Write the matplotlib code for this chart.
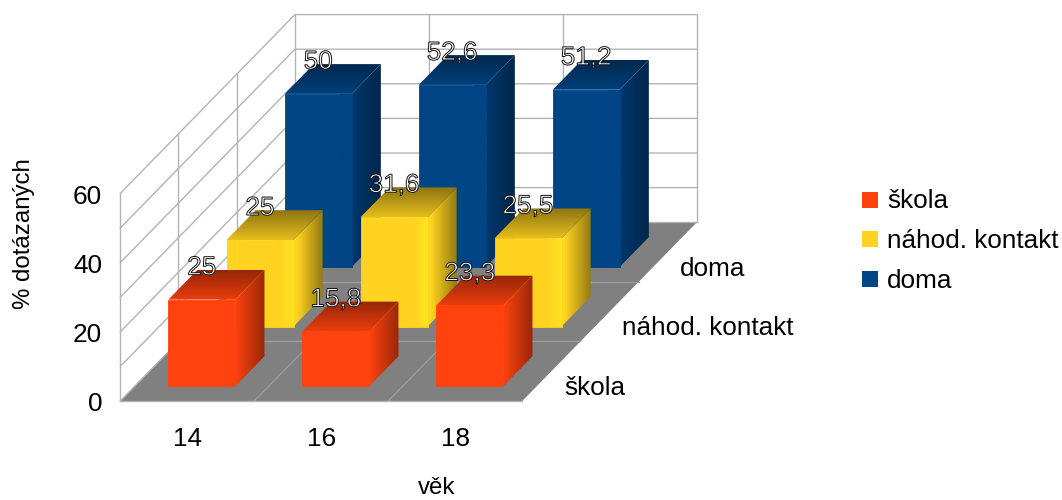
import matplotlib
matplotlib.use("Agg")
import matplotlib.pyplot as plt
import matplotlib.patheffects as pe
from matplotlib.colors import to_rgb
from matplotlib.patches import Polygon, Rectangle
import numpy as np

plt.rcParams['font.family'] = ['Liberation Sans', 'DejaVu Sans']

# data
ages = ["14", "16", "18"]
series = ["škola", "náhod. kontakt", "doma"]
skola = [25, 15.8, 23.3]
kontakt = [25, 31.6, 25.5]
doma = [50, 52.6, 51.2]
value_labels = [["25", "15,8", "23,3"], ["25", "31,6", "25,5"], ["50", "52,6", "51,2"]]
colors = ["#FF420E", "#FFD320", "#004586"]
y_ticks = [0, 20, 40, 60]
y_grid = [0, 10, 20, 30, 40, 50, 60]

W, H = 1062, 500
X0, Y0 = 120.3, 401.0   # pixel position of category 0, value 0
PX_CAT = 134.0          # pixels per category
PX_VAL = 3.46           # pixels per value unit
DEPTH_X = 58.2 / PX_CAT # shift for one row in depth, in axis units
DEPTH_Y = 59.6 / PX_VAL
BAR_W = 0.5
BAR_D = 0.5
FS = 18.8
GRID = "#b3b3b3"


def project(cat, val, depth):
    return cat + depth * DEPTH_X, val + depth * DEPTH_Y


def quad(*corners):
    return [project(*c) for c in corners]


def shade(color, start, end):
    # strip of colour going from start to end brightness
    rgb = np.array(to_rgb(color))
    f = np.linspace(start, end, 64)
    return np.clip(f[:, None] * rgb[None, :], 0, 1)


def fill_grad(ax, pts, color, start, end, vertical, z):
    pts = np.array(pts)
    xa, xb, ya, yb = pts[:, 0].min(), pts[:, 0].max(), pts[:, 1].min(), pts[:, 1].max()
    strip = shade(color, start, end)
    strip = strip[:, None, :] if vertical else strip[None, :, :]
    im = ax.imshow(strip, extent=(xa, xb, ya, yb), origin="lower", aspect="auto",
                   interpolation="bilinear", zorder=z)
    clip = Polygon(pts, closed=True, transform=ax.transData, fc="none", ec="none")
    ax.add_patch(clip)
    im.set_clip_path(clip)


def bar3d(ax, cat, row, val, color, side, top, band, z):
    x1 = cat + (1 - BAR_W) / 2
    x2 = x1 + BAR_W
    d1 = row + (1 - BAR_D) / 2
    d2 = d1 + BAR_D
    # side and top first, front last
    fill_grad(ax, quad((x2, 0, d1), (x2, 0, d2), (x2, val, d2), (x2, val, d1)),
              color, side[0], side[1], False, z)
    fill_grad(ax, quad((x1, val, d1), (x2, val, d1), (x2, val, d2), (x1, val, d2)),
              color, top[0], top[1], True, z)
    ax.add_patch(Polygon(quad((x1, 0, d1), (x2, 0, d1), (x2, val, d1), (x1, val, d1)),
                         closed=True, fc=color, ec=color, lw=0.6, zorder=z + 0.1))
    # brighter strip where the front turns into the side
    xb = x2 - 0.09
    fill_grad(ax, quad((xb, 0, d1), (x2, 0, d1), (x2, val, d1), (xb, val, d1)),
              color, 1.0, band, False, z + 0.2)


fig = plt.figure(figsize=(W / 100, H / 100), dpi=100)
ax = fig.add_axes([0, 0, 1, 1])
xlim = (-X0 / PX_CAT, (W - X0) / PX_CAT)
ylim = ((Y0 - H) / PX_VAL, Y0 / PX_VAL)

# floor
n_cat, n_row = len(ages), len(series)
ax.add_patch(Polygon(quad((0, 0, 0), (n_cat, 0, 0), (n_cat, 0, n_row), (0, 0, n_row)),
                     closed=True, fc="#808080", ec="none", zorder=1))
for c in range(1, n_cat):
    ax.plot(*zip(*quad((c, 0, 0), (c, 0, n_row))), color="#9a9a9a", lw=1, zorder=1.5)
for r in range(1, n_row):
    ax.plot(*zip(*quad((0, 0, r), (n_cat, 0, r))), color="#9a9a9a", lw=1, zorder=1.5)

# walls
top = y_grid[-1]
for v in y_grid[1:]:
    ax.plot(*zip(*quad((0, v, 0), (0, v, n_row), (n_cat, v, n_row))), color=GRID, lw=1.0, zorder=2)
for r in range(n_row + 1):
    ax.plot(*zip(*quad((0, 0, r), (0, top, r))), color=GRID, lw=1.0, zorder=2)
for c in range(1, n_cat + 1):
    ax.plot(*zip(*quad((c, 0, n_row), (c, top, n_row))), color=GRID, lw=1.0, zorder=2)
ax.plot(*zip(*quad((0, 0, 0), (n_cat, 0, 0))), color=GRID, lw=1.0, zorder=2)
ax.plot(*zip(*quad((0, 0, n_row), (n_cat, 0, n_row))), color=GRID, lw=1.0, zorder=2)
ax.plot(*zip(*quad((0, 0, 0), (0, 0, n_row))), color=GRID, lw=1.0, zorder=2)

# bars, back row first
all_vals = [skola, kontakt, doma]
side_shade = [(1.0, 0.6), (1.05, 0.56), (0.8, 0.55)]
top_shade = [(0.92, 0.58), (0.9, 0.55), (0.92, 0.58)]
band_shade = [1.0, 1.08, 1.0]
for row in range(n_row - 1, -1, -1):
    for cat in range(n_cat):
        z = 3 + (n_row - row) * 10 + cat
        bar3d(ax, cat, row, all_vals[row][cat], colors[row], side_shade[row], top_shade[row],
              band_shade[row], z)

# value labels, white with thin dark outline
outline = [pe.PathPatchEffect(edgecolor="#111111", facecolor="white", linewidth=0.7)]
for row in range(n_row):
    for cat in range(n_cat):
        x, y = project(cat + 0.5, all_vals[row][cat], row + (1 - BAR_D) / 2)
        ax.annotate(value_labels[row][cat], (x, y), xytext=(0, 23), textcoords="offset points",
                    ha="center", va="center", fontsize=FS, color="white", zorder=100,
                    path_effects=outline)

# tick labels
for v in y_ticks:
    ax.annotate(str(v), project(0, v, 0), xytext=(-13, -2.5), textcoords="offset points",
                ha="right", va="center", fontsize=FS, color="black")
for c, lab in enumerate(ages):
    ax.annotate(lab, project(c + 0.5, 0, 0), xytext=(0, -27.5), textcoords="offset points",
                ha="center", va="center", fontsize=FS, color="black")
for r, lab in enumerate(series):
    ax.annotate(lab, project(n_cat, 0, r + 0.5), xytext=(9, -12), textcoords="offset points",
                ha="left", va="center", fontsize=FS, color="black")

ax.set_xlim(xlim)
ax.set_ylim(ylim)
ax.axis("off")

# axis titles
fig.text(24 / W, 1 - 234 / H, "% dotázaných", rotation=90, ha="center", va="center", fontsize=17.3, color="black")
fig.text(437 / W, 1 - 488 / H, "věk", ha="center", va="center", fontsize=17.3, color="black")

# legend
for lab, col, yc in zip(series, colors, [199.5, 239, 279]):
    fig.add_artist(Rectangle((862.3 / W, 1 - (yc + 8) / H), 16 / W, 16 / H, transform=fig.transFigure,
                             fc=col, ec="none"))
    fig.text(887 / W, 1 - (yc + 2) / H, lab, ha="left", va="center", fontsize=FS, color="black")

fig.savefig("out.png", dpi=100)
